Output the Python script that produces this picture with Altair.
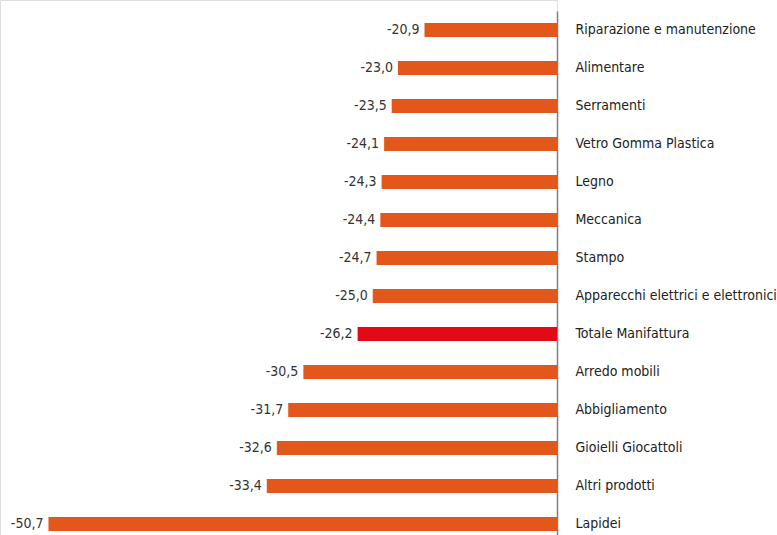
import altair as alt
import pandas as pd

categories = [
    "Riparazione e manutenzione", "Alimentare", "Serramenti", "Vetro Gomma Plastica",
    "Legno", "Meccanica", "Stampo", "Apparecchi elettrici e elettronici",
    "Totale Manifattura", "Arredo mobili", "Abbigliamento", "Gioielli Giocattoli",
    "Altri prodotti", "Lapidei",
]
values = [-20.9, -23.0, -23.5, -24.1, -24.3, -24.4, -24.7, -25.0, -26.2, -30.5, -31.7, -32.6, -33.4, -50.7]
highlight = ["no"] * 8 + ["yes"] + ["no"] * 5

AXIS_VALUE = -10.4

df = pd.DataFrame({"cat": categories, "val": values, "hl": highlight})
df["label"] = df["val"].map(lambda v: f"{v:.1f}".replace(".", ","))
df["base"] = AXIS_VALUE

FONT = "Liberation Sans Narrow, DejaVu Sans Condensed, sans-serif"

xscale = alt.Scale(domain=[-54.54, AXIS_VALUE], nice=False, zero=False)
yscale = alt.Scale(domain=categories, range=[11, 543], paddingInner=0, paddingOuter=0)

bars = alt.Chart(df).mark_bar(size=14).encode(
    x=alt.X("val:Q", scale=xscale, axis=None),
    x2="base:Q",
    y=alt.Y("cat:N", scale=yscale, sort=categories,
            axis=alt.Axis(orient="right", title=None, ticks=False, labelPadding=18,
                          domainColor="#7f7f7f", domainWidth=1.5, labelFont=FONT,
                          labelFontSize=14, labelColor="#222222", labelLimit=300)),
    color=alt.Color("hl:N", scale=alt.Scale(domain=["no", "yes"], range=["#E3581A", "#E30A17"]), legend=None),
)

text = alt.Chart(df).mark_text(align="right", baseline="middle", dx=-5, font=FONT,
                               fontSize=14, color="#333333").encode(
    x=alt.X("val:Q", scale=xscale),
    y=alt.Y("cat:N", scale=yscale, sort=categories),
    text="label:N",
)

chart = (bars + text).properties(
    width=557, height=535,
    autosize=alt.AutoSizeParams(type="none"),
    padding={"left": 0, "top": 0, "right": 220, "bottom": 0},
).configure_view(stroke=None).configure(background="white")

chart.save("out.html", embed_options={"renderer": "svg", "actions": False})
